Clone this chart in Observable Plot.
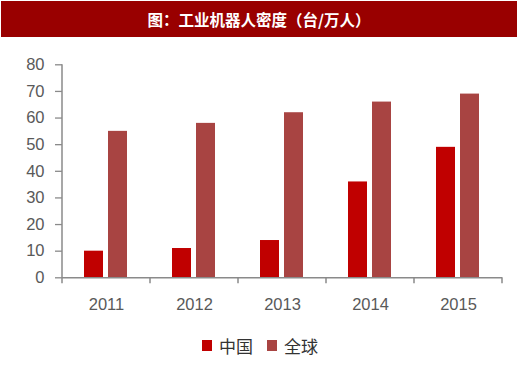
<!DOCTYPE html>
<html><head><meta charset="utf-8">
<script src="https://cdn.jsdelivr.net/npm/d3@7"></script>
<script src="https://cdn.jsdelivr.net/npm/@observablehq/plot@0.6"></script>
<style>
body{margin:0;background:#fff;}
#wrap{position:relative;width:520px;height:372px;overflow:hidden;background:#fff;}
#title{position:absolute;left:1px;top:1px;width:516px;height:36px;background:#990000;color:#fff;font-weight:bold;font-size:15.5px;font-family:"Noto Sans CJK SC";display:flex;align-items:center;justify-content:center;}
#chart{position:absolute;left:0;top:40px;}
#legend{position:absolute;left:0;top:335px;width:520px;height:20px;display:flex;justify-content:center;align-items:center;font-size:17px;font-family:"Noto Sans CJK SC";color:#333;}
.item{display:flex;align-items:center;margin:0 7px;}
.sw{width:10px;height:11px;margin-right:7px;}
</style></head>
<body>
<div id="wrap">
  <div id="title"></div>
  <div id="chart"></div>
  <div id="legend"></div>
</div>
<script>
const titleText = "图：工业机器人密度（台/万人）";
const years = ["2011","2012","2013","2014","2015"];
const seriesNames = ["中国","全球"];
const china = [10,11,14,36,49];
const world = [55,58,62,66,69];
const colors = ["#C00000","#A84442"];
const yTicks = [0,10,20,30,40,50,60,70,80];

document.getElementById("title").textContent = titleText;

const data = years.flatMap((yr,i)=>[
  {year:yr, series:seriesNames[0], value:china[i]},
  {year:yr, series:seriesNames[1], value:world[i]}
]);

const axisColor = "#8a8a8a";
const plot = Plot.plot({
  width:520, height:295,
  marginLeft:60, marginRight:17, marginTop:24.3, marginBottom:57.7,
  style:{fontFamily:"Liberation Sans", fontSize:"16.5px", color:"#595959", background:"transparent"},
  fx:{domain:years, padding:0, label:null},
  x:{domain:seriesNames, paddingInner:0.2, paddingOuter:0.872, axis:null},
  y:{domain:[0,80], label:null},
  color:{domain:seriesNames, range:colors},
  marks:[
    Plot.barY(data,{fx:"year", x:"series", y:"value", fill:"series"}),
    Plot.axisY({ticks:yTicks, tickSize:7, tickPadding:11, label:null, stroke:axisColor, fill:"#595959", strokeWidth:1.3}),
    Plot.axisFx({anchor:"bottom", tickSize:0, tickPadding:20, label:null, fill:"#595959"}),
    Plot.ruleY([0],{stroke:axisColor, strokeWidth:1.5})
  ]
});
document.getElementById("chart").appendChild(plot);

// axis line and boundary ticks from the library's scales
const fx = plot.scale("fx"), ys = plot.scale("y");
const svg = d3.select(plot);
const x0 = fx.apply(years[0]);
svg.append("line").attr("x1",x0).attr("x2",x0).attr("y1",ys.apply(80)).attr("y2",ys.apply(0))
  .attr("stroke",axisColor).attr("stroke-width",1.5);
const bounds = years.map(y=>fx.apply(y)).concat([fx.apply(years[years.length-1])+fx.bandwidth]);
svg.append("g").selectAll("line").data(bounds).join("line")
  .attr("x1",d=>d).attr("x2",d=>d).attr("y1",ys.apply(0)).attr("y2",ys.apply(0)+6)
  .attr("stroke",axisColor).attr("stroke-width",1.5);

const leg = d3.select("#legend");
seriesNames.forEach((s,i)=>{
  const it = leg.append("div").attr("class","item");
  it.append("div").attr("class","sw").style("background",colors[i]);
  it.append("span").text(s);
});
</script>
</body></html>
